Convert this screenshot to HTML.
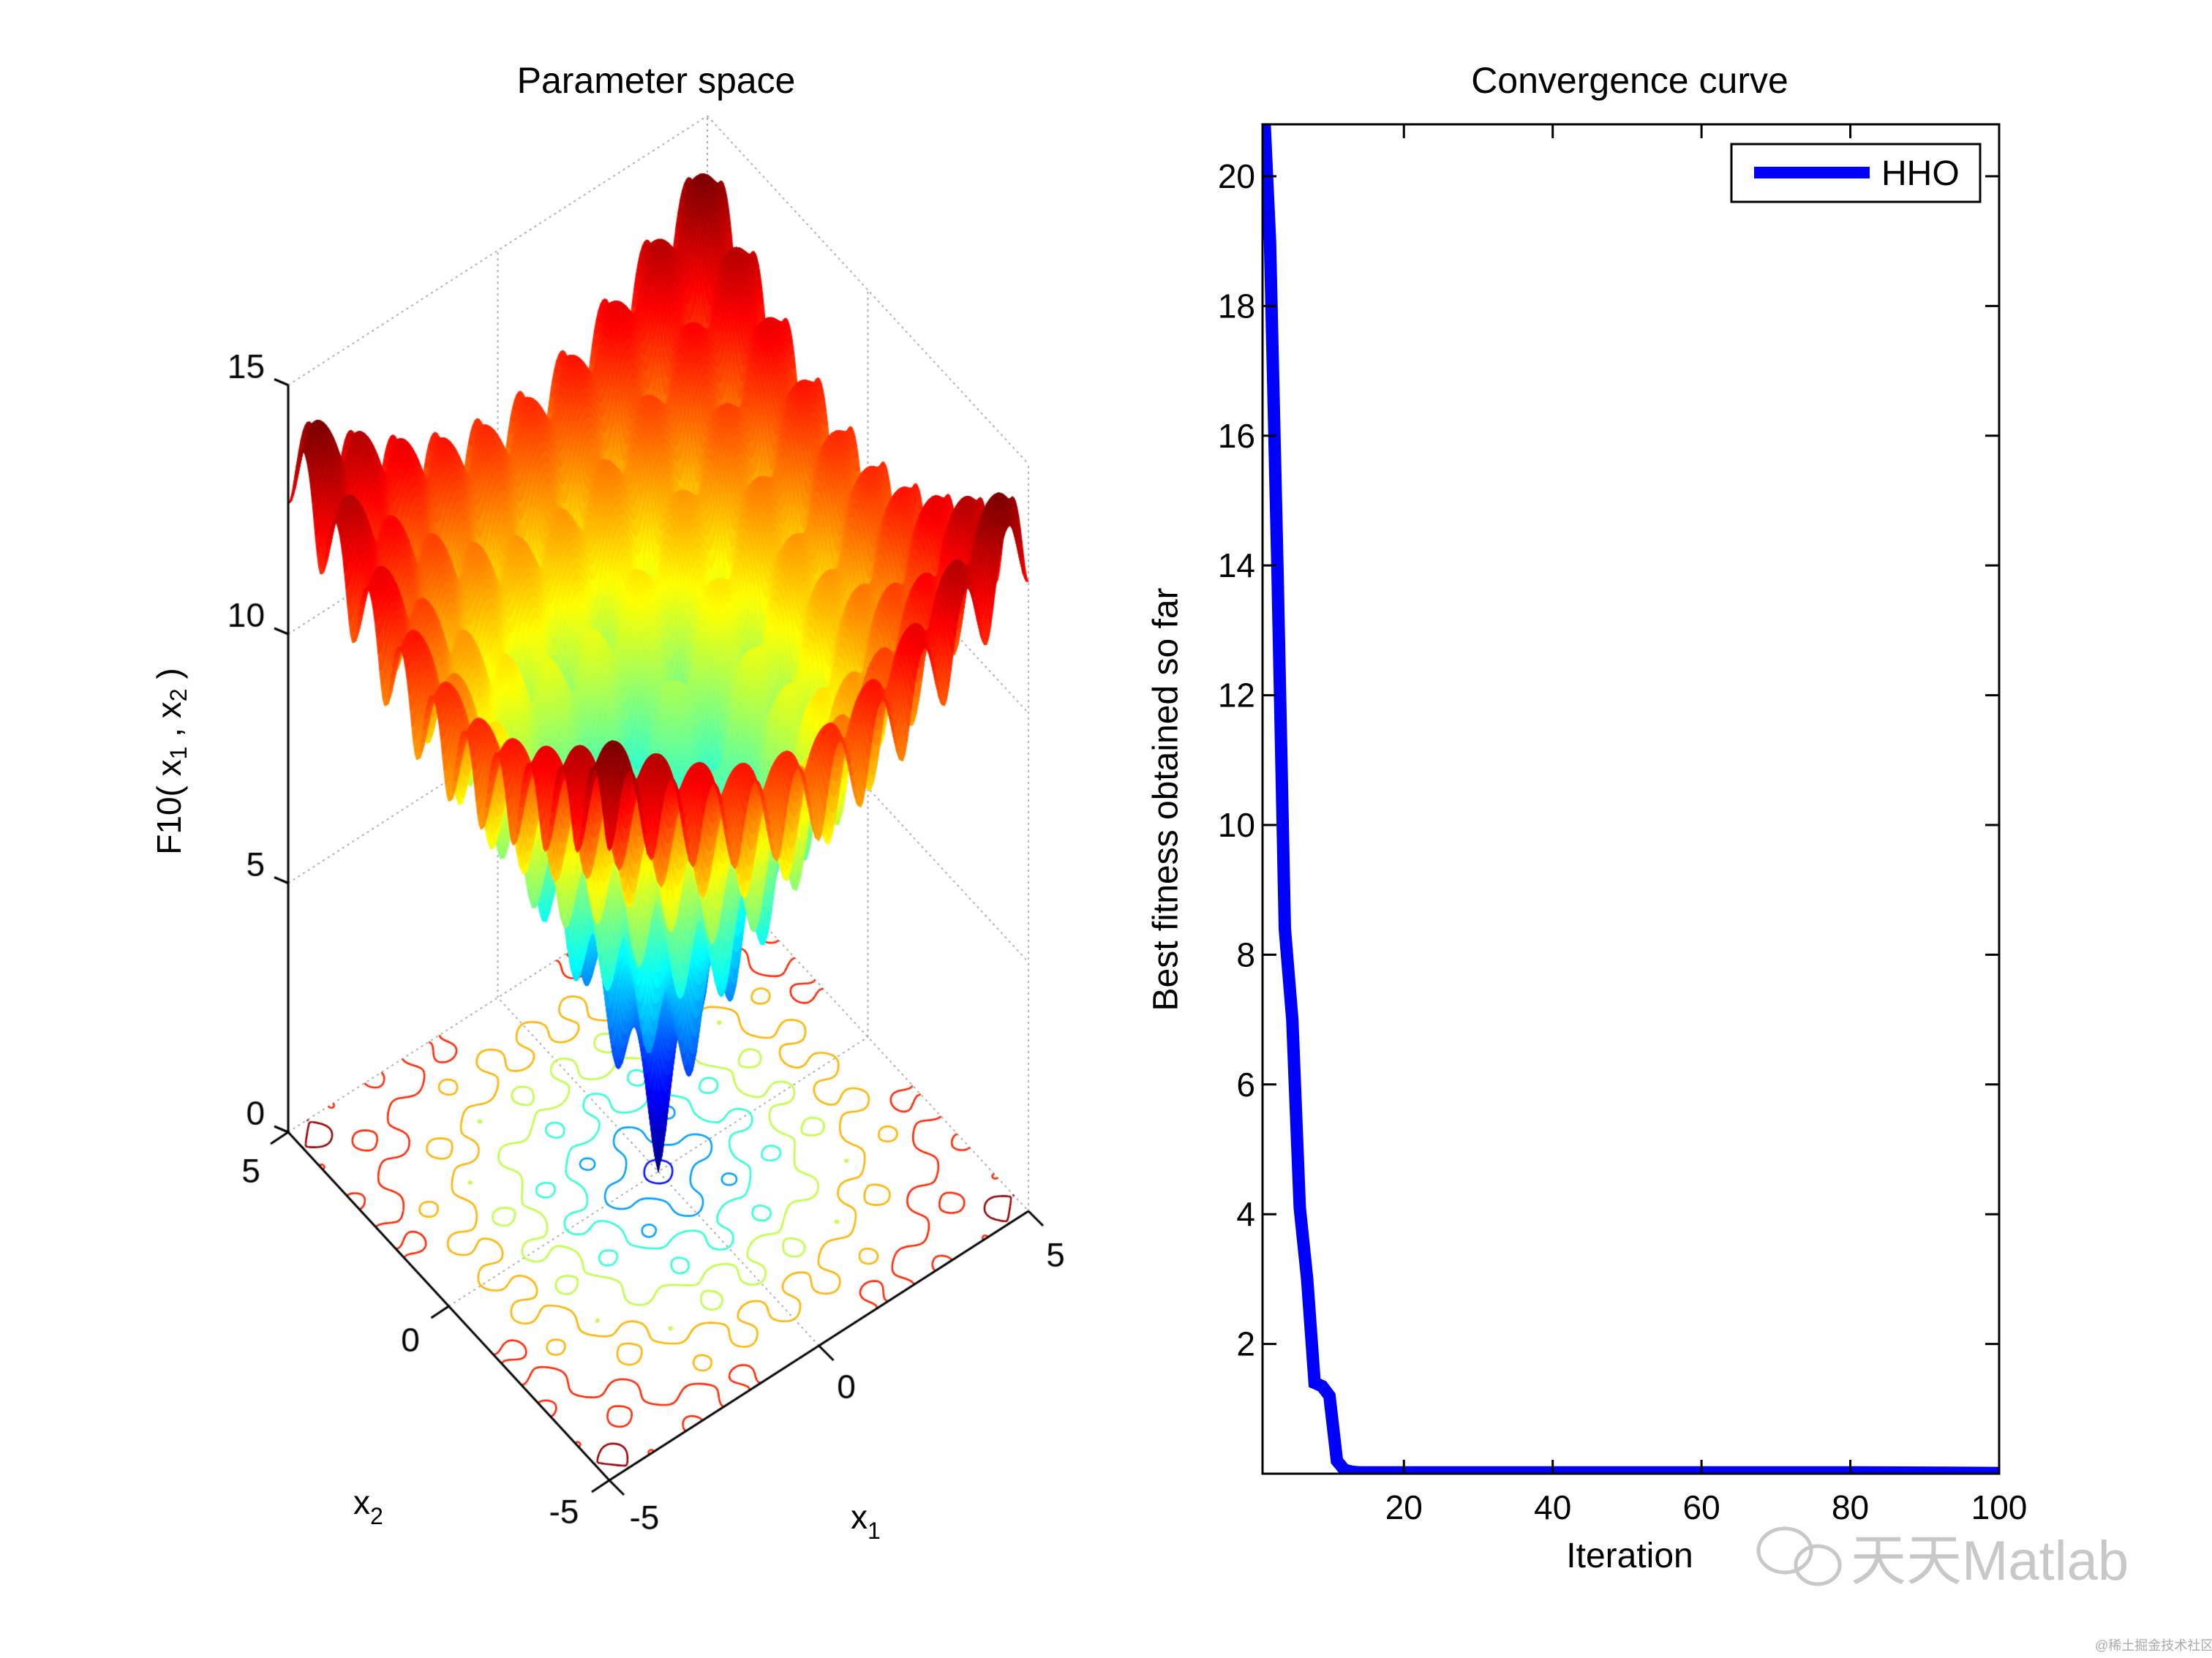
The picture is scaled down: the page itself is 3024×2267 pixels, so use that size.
<!DOCTYPE html>
<html><head><meta charset="utf-8">
<style>
html,body{margin:0;padding:0;background:#fff;}
#wrap{position:relative;width:3024px;height:2267px;overflow:hidden;font-family:"Liberation Sans","Noto Sans CJK SC",sans-serif;}
canvas,svg{position:absolute;left:0;top:0;}
</style></head>
<body>
<div id="wrap">
<canvas id="cv" width="3024" height="2267"></canvas>
<svg id="sv" width="3024" height="2267" viewBox="0 0 3024 2267">
 <text x="897" y="127" font-size="50" text-anchor="middle" font-family="Liberation Sans, sans-serif">Parameter space</text>
 <text x="2228" y="127" font-size="50" text-anchor="middle" font-family="Liberation Sans, sans-serif">Convergence curve</text>
 <g id="rp"></g>
 <text x="1597" y="1093" font-size="48" text-anchor="middle" transform="rotate(-90 1597 1093)" dominant-baseline="middle" font-family="Liberation Sans, sans-serif">Best fitness obtained so far</text>
 <text x="2228" y="2143" font-size="48" text-anchor="middle" font-family="Liberation Sans, sans-serif">Iteration</text>
 <g>
  <rect x="2367" y="197" width="340" height="79" fill="#fff" stroke="#000" stroke-width="3"/>
  <line x1="2398" y1="236" x2="2556" y2="236" stroke="#0000ff" stroke-width="16"/>
  <text x="2572" y="253" font-size="48" font-family="Liberation Sans, sans-serif">HHO</text>
 </g>
 <g font-size="46" font-family="Liberation Sans, sans-serif">
  <text x="235" y="1041" text-anchor="middle" dominant-baseline="middle" transform="rotate(-90 235 1041)">F10( x<tspan font-size="32" dy="12">1</tspan><tspan dy="-12"> , x</tspan><tspan font-size="32" dy="12">2</tspan><tspan dy="-12"> )</tspan></text>
  <text x="483" y="2070">x<tspan font-size="32" dy="14">2</tspan></text>
  <text x="1163" y="2090">x<tspan font-size="32" dy="14">1</tspan></text>
 </g>
 <g fill="#c8c8c8">
  <ellipse cx="2440" cy="2120" rx="36" ry="30" fill="none" stroke="#c8c8c8" stroke-width="5"/>
  <ellipse cx="2485" cy="2140" rx="30" ry="26" fill="none" stroke="#c8c8c8" stroke-width="5"/>
  <text x="2530" y="2160" font-size="76" font-family="Liberation Sans, Noto Sans CJK SC, sans-serif">天天Matlab</text>
  <text x="2864" y="2256" font-size="18" fill="#aaa" font-family="Liberation Sans, Noto Sans CJK SC, sans-serif">@稀土掘金技术社区</text>
 </g>
</svg>
</div>
<script>
// ---------- Convergence chart data ----------
const iterations = [1,2,3,4,5,6,7,8,9,10,11,12,13,14,20,40,60,80,100];
const fitness = [21.5,19.0,14.0,8.4,7.0,4.1,3.0,1.4,1.35,1.2,0.2,0.06,0.03,0.02,0.02,0.02,0.02,0.02,0.01];
const yTicks = [2,4,6,8,10,12,14,16,18,20];
const xTicks = [20,40,60,80,100];

const NS='http://www.w3.org/2000/svg';
const L=1726,R=2733,T=170,B=2015;
const xmin=1,xmax=100,ymin=0,ymax=20.8;
function sx(v){return L+(v-xmin)/(xmax-xmin)*(R-L);}
function sy(v){return B-(v-ymin)/(ymax-ymin)*(B-T);}
const rp=document.getElementById('rp');
function mk(tag,attrs){const e=document.createElementNS(NS,tag);for(const k in attrs)e.setAttribute(k,attrs[k]);rp.appendChild(e);return e;}
const defs=mk('defs',{});
const cp=document.createElementNS(NS,'clipPath');cp.setAttribute('id','clipR');
const cr=document.createElementNS(NS,'rect');cr.setAttribute('x',L);cr.setAttribute('y',T);cr.setAttribute('width',R-L);cr.setAttribute('height',B-T);
cp.appendChild(cr);defs.appendChild(cp);
const pts=iterations.map((x,i)=>sx(x).toFixed(1)+','+sy(fitness[i]).toFixed(1)).join(' ');
const pl=mk('polyline',{points:pts,fill:'none',stroke:'#0000ff','stroke-width':17,'stroke-linejoin':'miter','clip-path':'url(#clipR)'});


const box=mk('rect',{x:L,y:T,width:R-L,height:B-T,fill:'none',stroke:'#000','stroke-width':3});


yTicks.forEach(v=>{
  const y=sy(v);
  const t1=mk('line',{x1:L,y1:y,x2:L+19,y2:y,stroke:'#000','stroke-width':3});
  
  
  const t2=mk('line',{x1:R,y1:y,x2:R-19,y2:y,stroke:'#000','stroke-width':3});
  
  
  const tx=mk('text',{x:L-10,y:y+16,'font-size':46,'text-anchor':'end','font-family':'Liberation Sans, sans-serif'});
  tx.textContent=v;
  
  
});
xTicks.forEach(v=>{
  const x=sx(v);
  const t1=mk('line',{x1:x,y1:B,x2:x,y2:B-19,stroke:'#000','stroke-width':3});
  
  
  const t2=mk('line',{x1:x,y1:T,x2:x,y2:T+19,stroke:'#000','stroke-width':3});
  
  
  const tx=mk('text',{x:x,y:2077,'font-size':46,'text-anchor':'middle','font-family':'Liberation Sans, sans-serif'});
  tx.textContent=v;
  
  
});

// ---------- 3D surface (Ackley F10) ----------
const cv=document.getElementById('cv');const ctx=cv.getContext('2d');
const O=[833,2024],A=[1406,1656],Bv=[394,1548],ZS=68.1;
function P(x1,x2,z){const u=(x1+5)/10,v=(x2+5)/10;return [O[0]+u*(A[0]-O[0])+v*(Bv[0]-O[0]), O[1]+u*(A[1]-O[1])+v*(Bv[1]-O[1])-z*ZS];}
function f(x,y){return -20*Math.exp(-0.2*Math.sqrt(0.5*(x*x+y*y)))-Math.exp(0.5*(Math.cos(2*Math.PI*x)+Math.cos(2*Math.PI*y)))+20+Math.E;}
function jet(t){t=Math.max(0,Math.min(1,t));const c=a=>Math.round(255*Math.max(0,Math.min(1,1.5-Math.abs(a))));return 'rgb('+c(4*t-3)+','+c(4*t-2)+','+c(4*t-1)+')';}
const N=200,h=10/N;const Z=[];let zmax=0;
for(let i=0;i<=N;i++){Z.push([]);for(let j=0;j<=N;j++){const z=f(-5+i*h,-5+j*h);Z[i].push(z);if(z>zmax)zmax=z;}}
function line(a,b,col,w,dash){ctx.beginPath();ctx.strokeStyle=col;ctx.lineWidth=w;ctx.setLineDash(dash||[]);ctx.moveTo(a[0],a[1]);ctx.lineTo(b[0],b[1]);ctx.stroke();ctx.setLineDash([]);}
const gc='#999',gd=[3,5];
[0,5,10,15].forEach(z=>{line(P(-5,5,z),P(5,5,z),gc,1.6,gd);line(P(5,5,z),P(5,-5,z),gc,1.6,gd);});
[-5,0,5].forEach(x=>{line(P(x,5,0),P(x,5,15),gc,1.6,gd);line(P(5,x,0),P(5,x,15),gc,1.6,gd);});
[0].forEach(x=>{line(P(x,-5,0),P(x,5,0),gc,1.6,gd);line(P(-5,x,0),P(5,x,0),gc,1.6,gd);});
const levels=[2,4,6,8,10,12,14];
ctx.lineWidth=2.6;
levels.forEach(lv=>{
  ctx.strokeStyle=jet(lv/zmax);ctx.beginPath();
  for(let i=0;i<N;i++)for(let j=0;j<N;j++){
    const c=[[i,j],[i+1,j],[i+1,j+1],[i,j+1]];const pts=[];
    for(let k=0;k<4;k++){const p=c[k],q=c[(k+1)%4];const a=Z[p[0]][p[1]],b=Z[q[0]][q[1]];
      if((a<lv)!==(b<lv)){const t=(lv-a)/(b-a);pts.push(P(-5+(p[0]+t*(q[0]-p[0]))*h,-5+(p[1]+t*(q[1]-p[1]))*h,0));}}
    for(let k=0;k+1<pts.length;k+=2){ctx.moveTo(pts[k][0],pts[k][1]);ctx.lineTo(pts[k+1][0],pts[k+1][1]);}
  }
  ctx.stroke();
});
const quads=[];
for(let i=0;i<N;i++)for(let j=0;j<N;j++)quads.push([i,j,-(368*i+476*j)]);
quads.sort((a,b)=>a[2]-b[2]);
ctx.lineWidth=1.2;ctx.lineJoin='round';
quads.forEach(q=>{const i=q[0],j=q[1];
  const zs=[Z[i][j],Z[i+1][j],Z[i+1][j+1],Z[i][j+1]];
  const p=[P(-5+i*h,-5+j*h,zs[0]),P(-5+(i+1)*h,-5+j*h,zs[1]),P(-5+(i+1)*h,-5+(j+1)*h,zs[2]),P(-5+i*h,-5+(j+1)*h,zs[3])];
  const col=jet((zs[0]+zs[1]+zs[2]+zs[3])/4/zmax);
  ctx.fillStyle=col;ctx.strokeStyle=col;ctx.beginPath();ctx.moveTo(p[0][0],p[0][1]);for(let k=1;k<4;k++)ctx.lineTo(p[k][0],p[k][1]);ctx.closePath();ctx.fill();ctx.stroke();});
line(P(-5,5,0),P(-5,-5,0),'#000',3);line(P(-5,-5,0),P(5,-5,0),'#000',3);line(P(-5,5,0),P(-5,5,15),'#000',3);
ctx.font='46px "Liberation Sans", sans-serif';ctx.fillStyle='#000';
[0,5,10,15].forEach(z=>{const p=P(-5,5,z);line(p,[p[0]-19,p[1]-8],'#000',3);ctx.textAlign='right';ctx.fillText(String(z),p[0]-32,p[1]-10);});
[-5,0,5].forEach(v=>{const p=P(-5,v,0);line(p,[p[0]-24,p[1]+16],'#000',3);
  const p2=P(v,-5,0);line(p2,[p2[0]+20,p2[1]+20],'#000',3);});
ctx.textAlign='center';
ctx.fillText('5',343,1617);ctx.fillText('0',561,1848);ctx.fillText('-5',771,2083);
ctx.fillText('-5',881,2091);ctx.fillText('0',1157,1912);ctx.fillText('5',1443,1732);
</script>
</body></html>
